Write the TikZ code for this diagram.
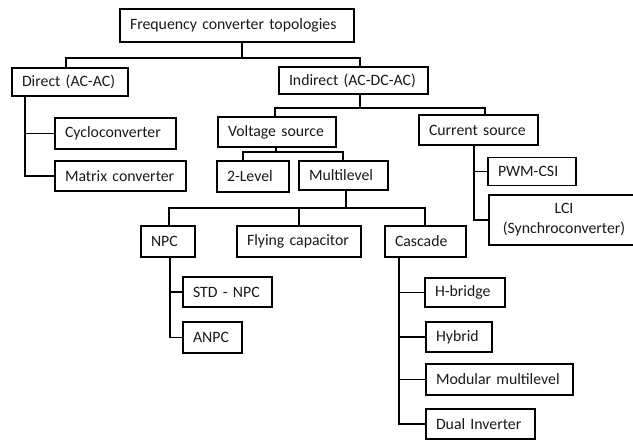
\documentclass[tikz,border=0pt]{standalone}
\usepackage{fontspec}
\setmainfont{Carlito}
\begin{document}
\begin{tikzpicture}[x=1pt,y=-1pt,
  box/.style={draw, line width=1.2pt, inner xsep=10pt, inner ysep=0pt, align=left,
    font=\fontsize{15.8}{20}\selectfont, text=black!90,
    execute at begin node={\hyphenpenalty=10000\relax}},
  link/.style={line width=1.2pt}]
\useasboundingbox (0,0) rectangle (633,440);
\tikzset{bw/.style={text width=#1pt-20pt}}
\node[box,bw=234,minimum height=33pt] (top) at (237,25.5) {Frequency converter topologies};
\node[box,bw=116,minimum height=28pt] (direct) at (70,82) {Direct (AC-AC)};
\node[box,bw=121,minimum height=31pt] (cyclo) at (115.5,133.5) {Cycloconverter};
\node[box,bw=131,minimum height=30pt] (matrix) at (120.5,176) {Matrix converter};
\node[box,bw=149,minimum height=27pt] (indirect) at (353.5,80.5) {Indirect (AC-DC-AC)};
\node[box,bw=118,minimum height=30pt] (voltage) at (277,132) {Voltage source};
\node[box,bw=119,minimum height=30pt] (current) at (478.5,130) {Current source};
\node[box,bw=72,minimum height=31pt] (twolevel) at (253,176.5) {2-Level};
\node[box,bw=89,minimum height=29pt] (multi) at (343.5,175.5) {Multilevel};
\node[box,bw=88,minimum height=28pt] (pwm) at (532,171.5) {PWM-CSI};
\node[box,bw=150,minimum height=50pt,align=center] (lci) at (564,220) {LCI\\(Synchroconverter)};
\node[box,bw=54,minimum height=31pt] (npc) at (168,241.5) {NPC};
\node[box,bw=124,minimum height=31pt] (flying) at (299,241.5) {Flying capacitor};
\node[box,bw=81,minimum height=31pt] (cascade) at (425.5,241.5) {Cascade};
\node[box,bw=89,minimum height=30pt] (std) at (227.5,292) {STD - NPC};
\node[box,bw=59,minimum height=31pt] (anpc) at (212.5,337.5) {ANPC};
\node[box,bw=80,minimum height=29pt] (hbridge) at (465,292.5) {H-bridge};
\node[box,bw=66,minimum height=30pt] (hybrid) at (459,337) {Hybrid};
\node[box,bw=147,minimum height=31pt] (modular) at (499.5,379.5) {Modular multilevel};
\node[box,bw=109,minimum height=30pt] (dual) at (480.5,424) {Dual Inverter};
% junction coordinates
\coordinate (j1) at (242,58);
\coordinate (j1L) at (66,58);
\coordinate (j1R) at (360,58);
\coordinate (sD) at (25,0);
\coordinate (j2) at (360,108);
\coordinate (j2L) at (275,108);
\coordinate (j2R) at (485,108);
\coordinate (j3) at (276,152);
\coordinate (j3L) at (243,152);
\coordinate (j3R) at (343,152);
\coordinate (sC) at (474,0);
\coordinate (j4) at (346,208);
\coordinate (j4L) at (169,208);
\coordinate (j4M) at (299,208);
\coordinate (j4R) at (425,208);
\coordinate (sN) at (170,0);
\coordinate (sK) at (399,0);
% connectors
\draw[link] (top.south -| j1) -- (j1);
\draw[link] (direct.north -| j1L) -- (j1L) -- (j1R) -- (indirect.north -| j1R);
\draw[link] (direct.south -| sD) |- (matrix.west);
\draw[link] (cyclo.west) -- (cyclo.west -| sD);
\draw[link] (indirect.south -| j2) -- (j2);
\draw[link] (voltage.north -| j2L) -- (j2L) -- (j2R) -- (current.north -| j2R);
\draw[link] (voltage.south -| j3) -- (j3);
\draw[link] (twolevel.north -| j3L) -- (j3L) -- (j3R) -- (multi.north -| j3R);
\draw[link] (current.south -| sC) |- (lci.west);
\draw[link] (pwm.west) -- (pwm.west -| sC);
\draw[link] (multi.south -| j4) -- (j4);
\draw[link] (npc.north -| j4L) -- (j4L) -- (j4R) -- (cascade.north -| j4R);
\draw[link] (j4M) -- (flying.north -| j4M);
\draw[link] (npc.south -| sN) |- (anpc.west);
\draw[link] (std.west) -- (std.west -| sN);
\draw[link] (cascade.south -| sK) |- (dual.west);
\draw[link] (hbridge.west) -- (hbridge.west -| sK);
\draw[link] (hybrid.west) -- (hybrid.west -| sK);
\draw[link] (modular.west) -- (modular.west -| sK);
\end{tikzpicture}
\end{document}
